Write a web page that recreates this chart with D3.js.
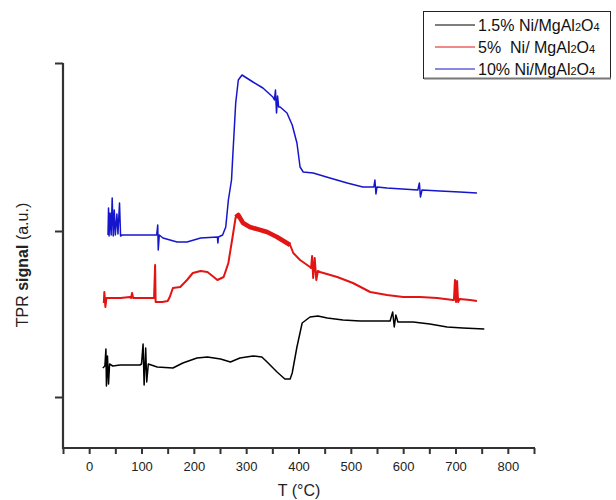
<!DOCTYPE html>
<html>
<head>
<meta charset="utf-8">
<script src="https://cdn.jsdelivr.net/npm/d3@7"></script>
<style>
  body { margin: 0; background: #fff; }
  svg { display: block; font-family: "Liberation Sans", Arial, sans-serif; }
</style>
</head>
<body>
<svg id="chart" width="616" height="500"></svg>
<script>
// x ticks (temperature, degC)
var xMajorTicks = [0, 100, 200, 300, 400, 500, 600, 700, 800];
var xAllTicks = d3.range(-50, 851, 50);
// unlabeled y ticks (arbitrary units)
var yTicks = [51, 217, 385];

var seriesNames = ["1.5% Ni/MgAl2O4", "5%  Ni/ MgAl2O4", "10% Ni/MgAl2O4"];
var seriesColors = ["#000000", "#e31414", "#1515cc"];

// [T, signal]
var ni15 = [
  [26, 80], [30, 82], [32, 99], [33, 62], [35, 92], [37, 64], [39, 84], [45, 82],
  [59, 83], [97, 83], [100, 84], [103, 104], [105, 63], [108, 100], [110, 66], [113, 84],
  [130, 81], [160, 80], [179, 85], [206, 90], [226, 91], [251, 89], [270, 86], [288, 90],
  [313, 92], [330, 91], [340, 86], [359, 76], [374, 69], [384, 69], [388, 75], [397, 101],
  [407, 125], [422, 131], [437, 132], [455, 130], [485, 128], [518, 127], [550, 127],
  [575, 127], [580, 136], [583, 121], [586, 133], [590, 126], [619, 126], [651, 124],
  [684, 121], [714, 120], [755, 119]
];

var ni5 = [
  [28, 145], [29, 156], [31, 141], [33, 150], [40, 150], [60, 150], [78, 151], [80, 150],
  [82, 155], [84, 150], [100, 150], [120, 150], [124, 150], [126, 183], [127, 146],
  [130, 146], [140, 146], [150, 147], [154, 151], [160, 160], [174, 161], [187, 168],
  [198, 175], [213, 177], [226, 176], [238, 171], [245, 168], [257, 171], [266, 185],
  [274, 211], [280, 231], [285, 233], [294, 225], [307, 221], [340, 216], [359, 211],
  [384, 203], [390, 195], [403, 188], [422, 181], [424, 180], [426, 192], [428, 170],
  [431, 190], [434, 168], [437, 177], [441, 176], [474, 171], [504, 165], [537, 156],
  [569, 153], [600, 151], [632, 151], [665, 150], [695, 148], [697, 148], [699, 168],
  [701, 146], [703, 167], [705, 146], [708, 149], [728, 148], [741, 147]
];

var ni10 = [
  [36, 213], [37, 240], [38, 212], [40, 235], [42, 213], [44, 250], [46, 212], [48, 238],
  [50, 213], [53, 234], [55, 214], [58, 245], [60, 212], [63, 213], [80, 213], [100, 213],
  [125, 213], [129, 213], [131, 223], [132, 198], [134, 213], [141, 210], [168, 206],
  [187, 206], [213, 210], [245, 211], [246, 205], [247, 211], [255, 213], [261, 221],
  [266, 248], [272, 268], [274, 288], [280, 345], [285, 368], [292, 373], [298, 371],
  [313, 366], [332, 360], [351, 351], [354, 348], [356, 358], [358, 335], [360, 352],
  [362, 341], [365, 341], [378, 335], [388, 323], [397, 305], [403, 281], [409, 276],
  [428, 275], [460, 270], [493, 265], [523, 261], [544, 261], [546, 268], [548, 254],
  [550, 261], [569, 260], [628, 258], [631, 265], [633, 251], [636, 258], [670, 257],
  [708, 256], [741, 255]
];

var svg = d3.select("#chart");

var x = d3.scaleLinear().domain([-50, 850]).range([63, 534]);
var y = d3.scaleLinear().domain([0, 385]).range([448, 63]);

var line = d3.line()
  .x(function(d) { return x(d[0]); })
  .y(function(d) { return y(d[1]); });

// curves
var allSeries = [ni15, ni5, ni10];
var widths = [1.5, 2, 1.5];
allSeries.forEach(function(s, i) {
  svg.append("path")
    .datum(s)
    .attr("d", line)
    .attr("fill", "none")
    .attr("stroke", seriesColors[i])
    .attr("stroke-width", widths[i])
    .attr("stroke-linejoin", "round");
});

// noisy thick part of the red trace
svg.append("path")
  .datum(ni5.filter(function(d) { return d[0] >= 279 && d[0] <= 385; }))
  .attr("d", line)
  .attr("fill", "none")
  .attr("stroke", seriesColors[1])
  .attr("stroke-width", 4.5)
  .attr("stroke-linejoin", "round");

// x axis
var xAxis = d3.axisBottom(x)
  .tickValues(xAllTicks)
  .tickSize(6)
  .tickFormat(function(d) { return xMajorTicks.indexOf(d) >= 0 ? d : ""; });

var gx = svg.append("g")
  .attr("transform", "translate(0," + 448 + ")")
  .call(xAxis);
gx.select(".domain").attr("stroke", "#333").attr("stroke-width", 2.2)
  .attr("d", "M" + 63 + ",0H" + 535);
gx.selectAll(".tick line").attr("stroke", "#333").attr("stroke-width", 2);
gx.selectAll(".tick text")
  .attr("fill", "#222")
  .attr("font-size", 13)
  .attr("font-family", "'Liberation Sans', Arial, sans-serif")
  .attr("dy", "1.05em");

// y axis
var yAxis = d3.axisLeft(y)
  .tickValues(yTicks)
  .tickSize(8)
  .tickFormat("");
var gy = svg.append("g")
  .attr("transform", "translate(" + 63 + ",0)")
  .call(yAxis);
gy.select(".domain").attr("stroke", "#333").attr("stroke-width", 2.2)
  .attr("d", "M0," + y(385) + "V" + 449);
gy.selectAll(".tick line").attr("stroke", "#333").attr("stroke-width", 2);

// axis titles
svg.append("text")
  .attr("x", 299)
  .attr("y", 496)
  .attr("text-anchor", "middle")
  .attr("font-size", 16)
  .attr("fill", "#222")
  .text("T (°C)");

var yt = svg.append("text")
  .attr("transform", "translate(28,265) rotate(-90)")
  .attr("text-anchor", "middle")
  .attr("font-size", 16)
  .attr("fill", "#222");
yt.append("tspan").text("TPR ");
yt.append("tspan").attr("font-weight", "bold").text("signal");
yt.append("tspan").text(" (a.u.)");

// legend
var legend = svg.append("g");
legend.append("rect")
  .attr("x", 423.5).attr("y", 11.5)
  .attr("width", 187).attr("height", 67)
  .attr("fill", "#fff")
  .attr("stroke", "#222")
  .attr("stroke-width", 1);
legend.append("line")
  .attr("x1", 424).attr("x2", 611)
  .attr("y1", 78.5).attr("y2", 78.5)
  .attr("stroke", "#777").attr("stroke-width", 2);

var rowY = [25, 47, 69];
seriesNames.forEach(function(name, i) {
  legend.append("line")
    .attr("x1", 435).attr("x2", 475)
    .attr("y1", rowY[i]).attr("y2", rowY[i])
    .attr("stroke", seriesColors[i])
    .attr("stroke-width", 1.2);
  var m = name.match(/^(.*MgAl)2O4$/);
  var t = legend.append("text")
    .attr("x", 478)
    .attr("y", rowY[i] + 6)
    .attr("font-size", 16)
    .attr("fill", "#111")
    .attr("xml:space", "preserve")
    .style("white-space", "pre");
  t.append("tspan").text(m[1]);
  t.append("tspan").attr("font-size", 11).text("2");
  t.append("tspan").text("O");
  t.append("tspan").attr("font-size", 11).text("4");
});
</script>
</body>
</html>
